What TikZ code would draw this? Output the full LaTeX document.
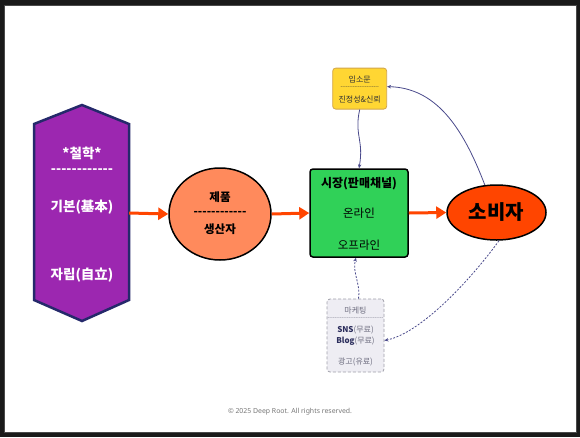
\documentclass[tikz,border=0pt]{standalone}
\usepackage{fontspec}
\setmainfont{Noto Sans CJK KR}[Ligatures=TeXOff]
\newfontfamily\copyfont{Noto Sans}
\usetikzlibrary{arrows.meta,shapes.geometric}
\definecolor{framedark}{HTML}{1A1A1A}
\definecolor{frameline}{HTML}{4A4A4A}
\definecolor{purplefill}{HTML}{9C27B0}
\definecolor{hexline}{HTML}{25296B}
\definecolor{salmon}{HTML}{FF8A5C}
\definecolor{greenfill}{HTML}{30D158}
\definecolor{orangered}{HTML}{FF4500}
\definecolor{goldfill}{HTML}{FFD633}
\definecolor{goldline}{HTML}{D2A64A}
\definecolor{mktfill}{HTML}{EEEDF3}
\definecolor{mktline}{HTML}{A0A0AA}
\definecolor{navy}{HTML}{4A4A8C}
\definecolor{mktnavy}{HTML}{2B2D5C}
\definecolor{mktgray}{HTML}{6E6E80}
\definecolor{copygray}{HTML}{777777}
\begin{document}
\begin{tikzpicture}[x=1pt,y=-1pt,
  wtxt/.style={text=white,font=\bfseries\fontsize{13.5}{16}\selectfont,inner sep=0},
  btxt/.style={text=black,font=\bfseries\fontsize{11.5}{14}\selectfont,inner sep=0},
  gtxt/.style={text=black,font=\fontsize{11.5}{14}\selectfont,inner sep=0},
  ytxt/.style={text=black!80,font=\fontsize{8}{10}\selectfont,inner sep=0},
  mtxt/.style={text=mktgray,font=\fontsize{8}{10}\selectfont,inner sep=0},
  flow/.style={draw=orangered,line width=3pt,-{Triangle[length=10pt,width=12pt]}},
  thinflow/.style={draw=navy,line width=0.8pt,-{Stealth[length=4pt,width=3.5pt]}},
  dashflow/.style={draw=navy,line width=0.8pt,dash pattern=on 2pt off 1.5pt,-{Stealth[length=4pt,width=3.5pt]}}
]
\useasboundingbox (0,0) rectangle (580,437);
\fill[framedark] (0,0) rectangle (580,437);
\fill[white] (4,5) rectangle (576,432);
\draw[frameline,line width=0.8pt] (4,5) rectangle (576,432);

% philosophy hexagon
\draw[hexline,fill=purplefill,line width=2.5pt,line join=miter]
  (82,105) -- (129,124) -- (129,300) -- (82,321) -- (34,300) -- (34,124) -- cycle;
\node[inner sep=0,minimum width=95pt,minimum height=216pt] (phil) at (81.5,213) {};
\node[wtxt] (p1) at (82,153) {*철학*};
\node[wtxt] (p2) at (82,171) {------------};
\node[wtxt] (p3) at (82,207) {기본(基本)};
\node[wtxt] (p4) at (82,275) {자립(自立)};

% product ellipse
\node[draw=black,fill=salmon,ellipse,line width=1.5pt,minimum width=102pt,minimum height=92pt,inner sep=0] (prod) at (220,214) {};
\node[btxt] (r1) at (220,197) {제품};
\node[btxt] (r2) at (220,213) {------------};
\node[btxt] (r3) at (220,229) {생산자};

% market box
\node[draw=black,fill=greenfill,rounded corners=3pt,line width=1.5pt,minimum width=98pt,minimum height=88pt,inner sep=0] (market) at (359,213) {};
\node[btxt,font=\bfseries\fontsize{12}{14}\selectfont] (m1) at (359,183.5) {시장(판매채널)};
\node[gtxt] (m2) at (359,213.5) {온라인};
\node[gtxt] (m3) at (359,245) {오프라인};

% consumer ellipse
\node[draw=black,fill=orangered,ellipse,line width=1.5pt,minimum width=99pt,minimum height=55pt,inner sep=0] (cons) at (496.5,212.5) {};
\node[btxt,font=\bfseries\fontsize{20}{24}\selectfont] (c1) at (496.5,212.5) {소비자};

% word of mouth box
\node[draw=goldline,fill=goldfill,rounded corners=3pt,line width=0.8pt,minimum width=54pt,minimum height=41pt,inner sep=0] (wom) at (359.7,88.6) {};
\node[ytxt] (w1) at (359.7,79) {입소문};
\node[ytxt,font=\fontsize{5}{6}\selectfont] (w2) at (359.7,88) {----------------------};
\node[ytxt] (w3) at (359.7,100) {진정성\&신뢰};

% marketing box
\node[draw=mktline,fill=mktfill,dash pattern=on 3pt off 2pt,rounded corners=3pt,line width=0.8pt,minimum width=57pt,minimum height=73pt,inner sep=0] (mkt) at (355.5,335.5) {};
\node[mtxt] (k1) at (355.5,310) {마케팅};
\node[mtxt,font=\fontsize{5}{6}\selectfont] (k2) at (355.5,319) {--------------------------------};
\node[mtxt] (k3) at (355.5,330) {\textcolor{mktnavy}{\bfseries SNS}(무료)};
\node[mtxt] (k4) at (355.5,341) {\textcolor{mktnavy}{\bfseries Blog}(무료)};
\node[mtxt] (k5) at (355.5,362) {광고(유료)};

% main flow
\draw[flow] (phil.east) -- (prod.west);
\draw[flow] (prod.east) -- (market.west);
\draw[flow] (market.east) -- (cons.west);

% feedback curves
\draw[thinflow] (cons.113) .. controls (462,125) and (435,88) .. ([yshift=2pt]wom.east);
\draw[thinflow] (wom.south) .. controls (354,135) and (364,140) .. (market.north);
\draw[dashflow] (cons.-85) .. controls (478,270) and (425,332) .. ([yshift=-5pt]mkt.east);
\draw[dashflow] ([xshift=3pt]mkt.north) .. controls (361,285) and (352,272) .. ([xshift=-3pt]market.south);

\node[font=\copyfont\fontsize{6.9}{8}\selectfont,text=copygray,inner sep=0] (copy) at (290,412) {© 2025 Deep Root. All rights reserved.};
\end{tikzpicture}
\end{document}
